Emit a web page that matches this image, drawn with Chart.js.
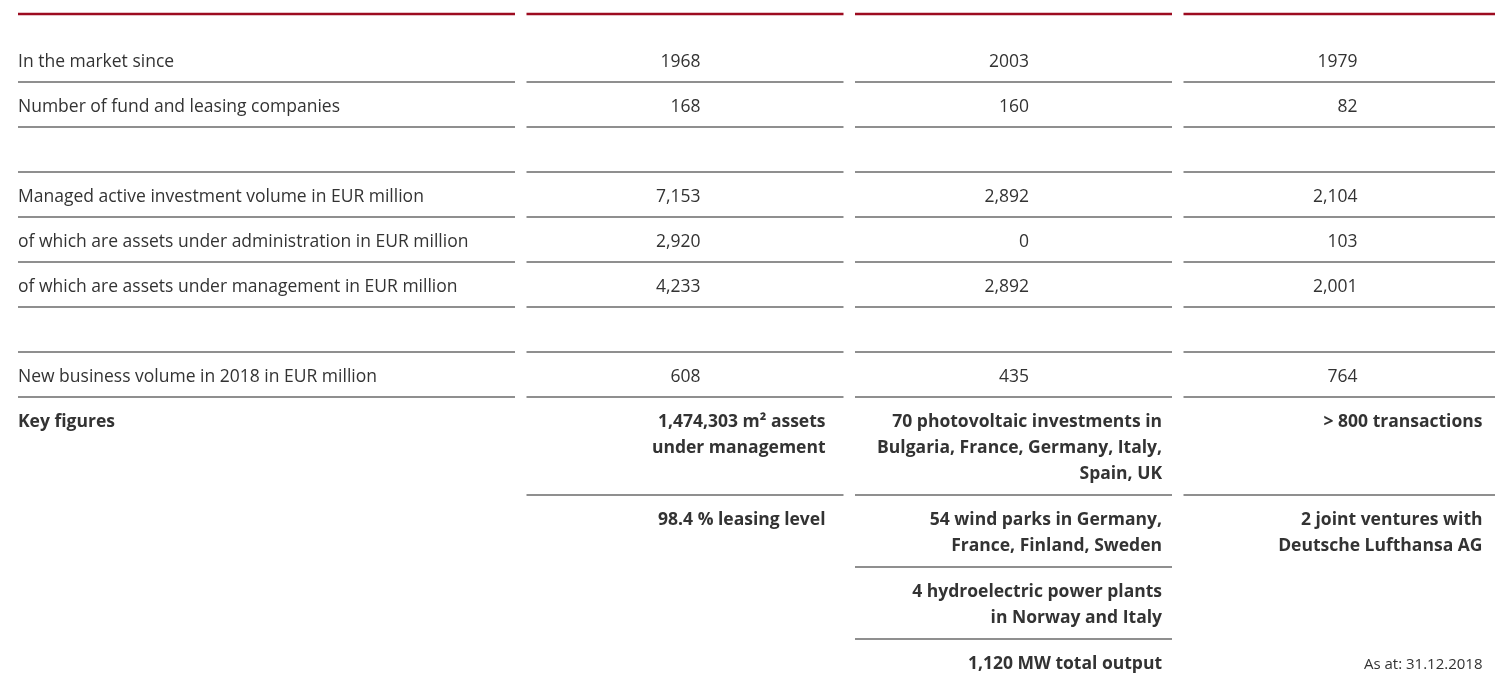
<!DOCTYPE html>
<html>
<head>
<meta charset="utf-8">
<title>Fund and leasing companies</title>
<script src="https://cdn.jsdelivr.net/npm/chart.js@4.4.1/dist/chart.umd.min.js"></script>
<style>
  html, body { margin: 0; padding: 0; background: #fff; }
  #wrap { position: relative; width: 1495px; height: 673px; }
</style>
</head>
<body>
<div id="wrap"><canvas id="chart"></canvas></div>
<script>
// ---- Data ----
const rowLabels = [
  'In the market since',
  'Number of fund and leasing companies',
  'Managed active investment volume in EUR million',
  'of which are assets under administration in EUR million',
  'of which are assets under management in EUR million',
  'New business volume in 2018 in EUR million'
];
// one value per company column
const marketSince = [1968, 2003, 1979];
const fundCompanies = [168, 160, 82];
const managedVolume = [7153, 2892, 2104];
const assetsUnderAdmin = [2920, 0, 103];
const assetsUnderMgmt = [4233, 2892, 2001];
const newBusiness2018 = [608, 435, 764];

const keyFiguresLabel = 'Key figures';
const keyFiguresCol1 = [
  ['1,474,303 m\u00B2 assets', 'under management'],
  ['98.4 % leasing level']
];
const keyFiguresCol2 = [
  ['70 photovoltaic investments in', 'Bulgaria, France, Germany, Italy,', 'Spain, UK'],
  ['54 wind parks in Germany,', 'France, Finland, Sweden'],
  ['4 hydroelectric power plants', 'in Norway and Italy'],
  ['1,120 MW total output']
];
const keyFiguresCol3 = [
  ['> 800 transactions'],
  ['2 joint ventures with', 'Deutsche Lufthansa AG']
];
const footnote = 'As at: 31.12.2018';

// ---- Layout ----
const W = 1495, H = 673;
const FONT = '"Open Sans", Lato, sans-serif';
const FONT_SIZE = 17.5;
const TEXT_DY = 1.5;               // optical correction for the 'middle' baseline
const TEXT_COLOR = '#333333';
const RULE_COLOR = '#6a6a6a';
const RED = '#9c0b20';
const TABLE_LEFT = 18, FIRST_COL_W = 497, COL_W = 317, GAP = 11.5;
const HEAD_Y = 14, HEAD_GAP = 23, ROW_H = 45, TEXT_OFF = 21.5;
const LINE_H = 26, BLOCK_TOP = 24, BLOCK_BOTTOM = 22;
const VALUE_RIGHT = 174;           // right edge of figures, from column left
const KEY_PAD = [18, 10, 18];      // right padding of key figure text per column

const cols = [{ l: TABLE_LEFT, r: TABLE_LEFT + FIRST_COL_W }];
for (let i = 1; i < 4; i++) {
  const l = cols[i - 1].r + GAP;
  cols.push({ l: l, r: l + COL_W });
}

function fmt(v) {
  return v.toLocaleString('en-US');
}

// rows of the upper part; null = blank spacer row
const rows = [
  { label: rowLabels[0], values: marketSince.map(String) },
  { label: rowLabels[1], values: fundCompanies.map(fmt) },
  null,
  { label: rowLabels[2], values: managedVolume.map(fmt) },
  { label: rowLabels[3], values: assetsUnderAdmin.map(fmt) },
  { label: rowLabels[4], values: assetsUnderMgmt.map(fmt) },
  null,
  { label: rowLabels[5], values: newBusiness2018.map(fmt) }
];

// build rules (drawn as line datasets) and text cells
const rules = [];
const texts = [];

cols.forEach(c => rules.push({ y: HEAD_Y, x0: c.l, x1: c.r, color: RED, width: 2.5 }));

let cursor = HEAD_Y + HEAD_GAP;
rows.forEach(row => {
  cursor += ROW_H;
  if (row) {
    const ty = cursor - TEXT_OFF;
    texts.push({ x: cols[0].l, y: ty, text: row.label, align: 'left', bold: false });
    row.values.forEach((v, i) => {
      texts.push({ x: cols[i + 1].l + VALUE_RIGHT, y: ty, text: v, align: 'right', bold: false });
    });
  }
  cols.forEach(c => rules.push({ y: cursor, x0: c.l, x1: c.r, color: RULE_COLOR, width: 1.5 }));
});

// key figures
const keyTop = cursor;
const keyCols = [keyFiguresCol1, keyFiguresCol2, keyFiguresCol3];
texts.push({ x: cols[0].l, y: keyTop + BLOCK_TOP - 0.5, text: keyFiguresLabel, align: 'left', bold: true });

const firstLines = Math.max(...keyCols.map(g => g[0].length));
const firstBottom = keyTop + BLOCK_TOP + (firstLines - 1) * LINE_H + BLOCK_BOTTOM;
let lastTextY = 0;

keyCols.forEach((groups, ci) => {
  const c = cols[ci + 1];
  const xr = c.r - KEY_PAD[ci];
  let top = keyTop;
  groups.forEach((lines, gi) => {
    lines.forEach((t, li) => {
      const y = top + BLOCK_TOP + li * LINE_H;
      texts.push({ x: xr, y: y, text: t, align: 'right', bold: true });
      lastTextY = Math.max(lastTextY, y);
    });
    const bottom = gi === 0 ? firstBottom : top + BLOCK_TOP + (lines.length - 1) * LINE_H + BLOCK_BOTTOM;
    if (gi < groups.length - 1) {
      rules.push({ y: bottom, x0: c.l, x1: c.r, color: RULE_COLOR, width: 1.5 });
    }
    top = bottom;
  });
});

texts.push({ x: cols[3].r - 18, y: lastTextY, text: footnote, align: 'right', bold: false, size: 15 });

// ---- Chart ----
const tableTextPlugin = {
  id: 'tableText',
  afterDatasetsDraw(chart) {
    const ctx = chart.ctx;
    const xs = chart.scales.x, ys = chart.scales.y;
    ctx.save();
    ctx.fillStyle = TEXT_COLOR;
    ctx.textBaseline = 'middle';
    texts.forEach(t => {
      ctx.font = (t.bold ? 'bold ' : '') + (t.size || FONT_SIZE) + 'px ' + FONT;
      ctx.textAlign = t.align;
      ctx.fillText(t.text, xs.getPixelForValue(t.x), ys.getPixelForValue(t.y + TEXT_DY));
    });
    ctx.restore();
  }
};

function draw() {
  new Chart(document.getElementById('chart'), {
    type: 'scatter',
    data: {
      datasets: rules.map(r => ({
        data: [{ x: r.x0, y: r.y }, { x: r.x1, y: r.y }],
        showLine: true,
        borderColor: r.color,
        borderWidth: r.width,
        pointRadius: 0,
        fill: false
      }))
    },
    options: {
      responsive: true,
      maintainAspectRatio: false,
      animation: false,
      events: [],
      layout: { padding: 0 },
      plugins: {
        legend: { display: false },
        tooltip: { enabled: false }
      },
      scales: {
        x: { type: 'linear', min: 0, max: W, display: false },
        y: { type: 'linear', min: 0, max: H, reverse: true, display: false }
      }
    },
    plugins: [tableTextPlugin]
  });
}

Promise.all([
  document.fonts.load(FONT_SIZE + 'px "Open Sans"'),
  document.fonts.load('bold ' + FONT_SIZE + 'px "Open Sans"')
]).then(draw, draw);
</script>
</body>
</html>
